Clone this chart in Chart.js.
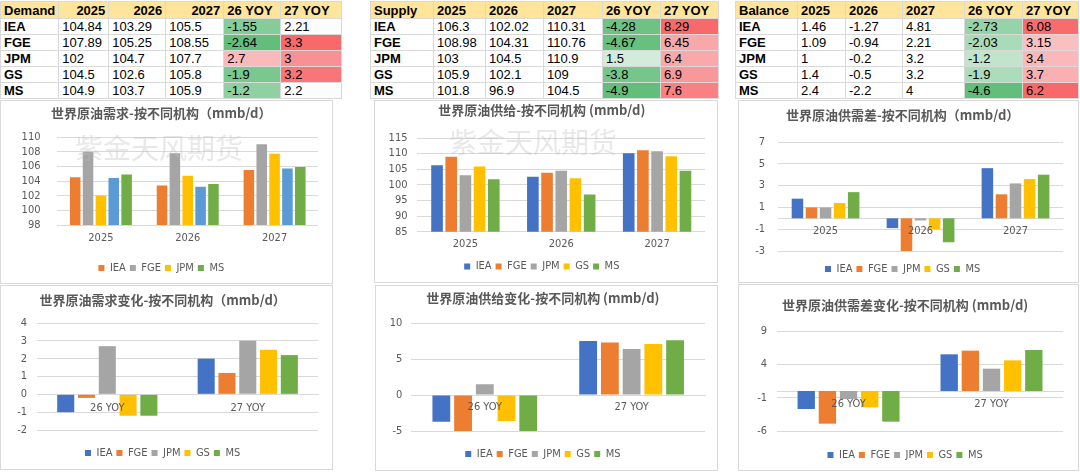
<!DOCTYPE html>
<html>
<head>
<meta charset="utf-8">
<script src="https://cdn.jsdelivr.net/npm/chart.js"></script>
<style>
  body { margin: 0; width: 1080px; height: 475px; overflow: hidden; position: relative; background: #fff;
         font-family: "Liberation Sans", Arial, sans-serif; }
  table { position: absolute; border-collapse: collapse; table-layout: fixed; font-size: 13px; color: #000; }
  td { border: 1px solid #d9d9d9; padding: 0 3px; height: 15px; line-height: 15px; white-space: nowrap; overflow: hidden; }
  tr.head td { background: #ffe59c; font-weight: bold; height: 16px; }
  td.lab { font-weight: bold; }
  .box { position: absolute; border: 1px solid #d9d9d9; box-sizing: border-box; background: #fff; }
  canvas { position: absolute; }
  .wm { position: absolute; font-family: "Noto Sans CJK SC"; font-size: 28px; color: rgba(190,190,190,0.35);
        white-space: nowrap; pointer-events: none; z-index: 5; }
</style>
</head>
<body>
<div class="wm" style="left:75px;top:127px">紫金天风期货</div>
<div class="wm" style="left:449px;top:121px">紫金天风期货</div>
<script>
// ---- table data ----
const agencies = ['IEA', 'FGE', 'JPM', 'GS', 'MS'];
const years = ['2025', '2026', '2027'];
const yoyCats = ['26 YOY', '27 YOY'];

const demand2025 = [104.84, 107.89, 102, 104.5, 104.9];
const demand2026 = [103.29, 105.25, 104.7, 102.6, 103.7];
const demand2027 = [105.5, 108.55, 107.7, 105.8, 105.9];
const demandYoy26 = [-1.55, -2.64, 2.7, -1.9, -1.2];
const demandYoy27 = [2.21, 3.3, 3, 3.2, 2.2];

const supply2025 = [106.3, 108.98, 103, 105.9, 101.8];
const supply2026 = [102.02, 104.31, 104.5, 102.1, 96.9];
const supply2027 = [110.31, 110.76, 110.9, 109, 104.5];
const supplyYoy26 = [-4.28, -4.67, 1.5, -3.8, -4.9];
const supplyYoy27 = [8.29, 6.45, 6.4, 6.9, 7.6];

const balance2025 = [1.46, 1.09, 1, 1.4, 2.4];
const balance2026 = [-1.27, -0.94, -0.2, -0.5, -2.2];
const balance2027 = [4.81, 2.21, 3.2, 3.2, 4];
const balanceYoy26 = [-2.73, -2.03, -1.2, -1.9, -4.6];
const balanceYoy27 = [6.08, 3.15, 3.4, 3.7, 6.2];

// ---- chart data (per agency, as drawn) ----
const demIEA = [104.5, 103.4, 105.5];
const demFGE = [108, 107.8, 109];
const demJPM = [102, 104.7, 107.7];
const demGS  = [104.4, 103.2, 105.7];
const demMS  = [104.9, 103.6, 105.9];

const supIEA = [106.3, 102.6, 110.1];
const supFGE = [109, 103.9, 111.1];
const supJPM = [103.1, 104.5, 110.8];
const supGS  = [105.9, 102.1, 109.2];
const supMS  = [101.8, 96.9, 104.5];

const balIEA = [1.8, -0.9, 4.6];
const balFGE = [1.0, -3.1, 2.2];
const balJPM = [1.0, -0.2, 3.2];
const balGS  = [1.4, -1.0, 3.6];
const balMS  = [2.4, -2.2, 4.0];

const dchIEA = [-1.0, 2.0];
const dchFGE = [-0.2, 1.2];
const dchJPM = [2.7, 3.0];
const dchGS  = [-1.2, 2.5];
const dchMS  = [-1.2, 2.2];

const schIEA = [-3.7, 7.5];
const schFGE = [-5.1, 7.3];
const schJPM = [1.5, 6.4];
const schGS  = [-3.6, 7.1];
const schMS  = [-5.0, 7.6];

const bchIEA = [-2.7, 5.5];
const bchFGE = [-4.9, 6.05];
const bchJPM = [-1.2, 3.35];
const bchGS  = [-2.45, 4.6];
const bchMS  = [-4.6, 6.15];

// ---- tables ----
function median(a) {
  const s = a.slice().sort((x, y) => x - y);
  const m = s.length / 2;
  return s.length % 2 ? s[Math.floor(m)] : (s[m - 1] + s[m]) / 2;
}
function scaleColor(v, min, mid, max) {
  const g = [99, 190, 123], w = [252, 252, 255], r = [248, 105, 107];
  let a, b, t;
  if (v <= mid) { a = g; b = w; t = (v - min) / (mid - min); }
  else { a = w; b = r; t = (v - mid) / (max - mid); }
  const c = a.map((x, i) => Math.round(x + (b[i] - x) * t));
  return 'rgb(' + c.join(',') + ')';
}
function makeTable(name, cols, left, widths, headRight) {
  const t = document.createElement('table');
  t.style.left = left + 'px';
  t.style.top = '1px';
  const cg = document.createElement('colgroup');
  widths.forEach(w => { const c = document.createElement('col'); c.style.width = w + 'px'; cg.appendChild(c); });
  t.appendChild(cg);
  const heads = [name, '2025', '2026', '2027', '26 YOY', '27 YOY'];
  const hr = document.createElement('tr');
  hr.className = 'head';
  heads.forEach((h, i) => {
    const td = document.createElement('td');
    td.textContent = h;
    if (headRight && i >= 1 && i <= 3) td.style.textAlign = 'right';
    hr.appendChild(td);
  });
  t.appendChild(hr);
  const yoy = cols[3].concat(cols[4]);
  const mn = Math.min(...yoy), mx = Math.max(...yoy), md = median(yoy);
  agencies.forEach((a, r) => {
    const tr = document.createElement('tr');
    const l = document.createElement('td');
    l.className = 'lab';
    l.textContent = a;
    tr.appendChild(l);
    cols.forEach((col, c) => {
      const td = document.createElement('td');
      td.textContent = String(col[r]);
      if (c >= 3) td.style.background = scaleColor(col[r], mn, md, mx);
      tr.appendChild(td);
    });
    t.appendChild(tr);
  });
  document.body.appendChild(t);
}
makeTable('Demand', [demand2025, demand2026, demand2027, demandYoy26, demandYoy27], 0, [50, 50, 57, 58, 57, 61], true);
makeTable('Supply', [supply2025, supply2026, supply2027, supplyYoy26, supplyYoy27], 370, [63, 52, 58, 59, 58, 58], false);
makeTable('Balance', [balance2025, balance2026, balance2027, balanceYoy26, balanceYoy27], 735, [62, 48, 57, 62, 58, 56], false);

// ---- charts ----
const narrow = '"Liberation Sans Narrow", "DejaVu Sans Condensed", "Liberation Sans", Arial, sans-serif';
Chart.defaults.font.family = narrow;
Chart.defaults.color = '#595959';
Chart.defaults.animation = false;

const stdColors = ['#4472C4', '#ED7D31', '#A5A5A5', '#FFC000', '#70AD47'];

const charts = [
  { box: [0, 100, 333, 184], title: '世界原油需求-按不同机构（mmb/d）', cats: years,
    series: [['IEA', demIEA, '#ED7D31'], ['FGE', demFGE, '#A5A5A5'], ['JPM', demJPM, '#FFC000'], ['GS', demGS, '#5B9BD5'], ['MS', demMS, '#70AD47']],
    min: 98, max: 110, step: 2, hide: ['GS'],
    pad: { left: 3.6, right: 14, top: 0, bottom: -0.5 }, titlePad: [4, 16.4], yPad: 17, xPad: 7, zero: false, gap: 6.3 },
  { box: [374, 100, 344, 183], title: '世界原油供给-按不同机构 (mmb/d)', cats: years,
    series: [['IEA', supIEA], ['FGE', supFGE], ['JPM', supJPM], ['GS', supGS], ['MS', supMS]],
    min: 85, max: 115, step: 5,
    pad: { left: 3.6, right: 12, top: 0, bottom: 0 }, titlePad: [1, 20.4], yPad: 10, xPad: 6, zero: false, gap: 0 },
  { box: [738, 100, 341, 183], title: '世界原油供需差-按不同机构（mmb/d）', cats: years,
    series: [['IEA', balIEA], ['FGE', balFGE], ['JPM', balJPM], ['GS', balGS], ['MS', balMS]],
    min: -3, max: 7, step: 2,
    pad: { left: 3.2, right: 15, top: 0, bottom: -2.5 }, titlePad: [6, 19.4], yPad: 13, xPad: 6, zero: true, gap: 8.5 },
  { box: [0, 285, 333, 185], title: '世界原油需求变化-按不同机构（mmb/d）', cats: yoyCats,
    series: [['IEA', dchIEA], ['FGE', dchFGE], ['JPM', dchJPM], ['GS', dchGS], ['MS', dchMS]],
    min: -2, max: 4, step: 1,
    pad: { left: 6.2, right: 14, top: 0, bottom: 0.5 }, titlePad: [6, 15.4], yPad: 10, xPad: 7, zero: true, gap: 13.5 },
  { box: [375, 285, 343, 186], title: '世界原油供给变化-按不同机构 (mmb/d)', cats: yoyCats,
    series: [['IEA', schIEA], ['FGE', schFGE], ['JPM', schJPM], ['GS', schGS], ['MS', schMS]],
    min: -5, max: 10, step: 5,
    pad: { left: 4.8, right: 12, top: 0, bottom: 0.5 }, titlePad: [4, 17.4], yPad: 9, xPad: 6, zero: true, gap: 13.5 },
  { box: [738, 284, 341, 187], title: '世界原油供需差变化-按不同机构 (mmb/d)', cats: yoyCats,
    series: [['IEA', bchIEA], ['FGE', bchFGE], ['JPM', bchJPM], ['GS', bchGS], ['MS', bchMS]],
    min: -6, max: 9, step: 5,
    pad: { left: 8.2, right: 15, top: 0, bottom: -0.5 }, titlePad: [12, 18.4], yPad: 10, xPad: 7, zero: true, gap: 14.5 }
];

charts.forEach(c => {
  const [x, y, w, h] = c.box;
  const box = document.createElement('div');
  box.className = 'box';
  Object.assign(box.style, { left: x + 'px', top: y + 'px', width: w + 'px', height: h + 'px' });
  document.body.appendChild(box);
  const cv = document.createElement('canvas');
  cv.width = w - 2;
  cv.height = h - 2;
  Object.assign(cv.style, { left: (x + 1) + 'px', top: (y + 1) + 'px' });
  document.body.appendChild(cv);

  const xScale = {
    type: 'category',
    grid: { display: false, drawTicks: false },
    border: { display: c.zero, color: '#d9d9d9' },
    ticks: { font: { size: 11 }, padding: c.xPad, color: '#595959', z: 1 }
  };
  if (c.zero) xScale.position = { y: 0 };

  new Chart(cv, {
    type: 'bar',
    data: {
      labels: c.cats,
      datasets: c.series.map((s, i) => ({
        label: s[0],
        data: s[1],
        backgroundColor: s[2] || stdColors[i],
        borderWidth: 0,
        categoryPercentage: 0.74,
        barPercentage: 0.82
      }))
    },
    options: {
      responsive: false,
      layout: { padding: c.pad },
      scales: {
        x: xScale,
        y: {
          min: c.min, max: c.max,
          grid: { color: '#d9d9d9', drawTicks: false },
          border: { display: false },
          ticks: { stepSize: c.step, autoSkip: false, font: { size: 11 }, padding: c.yPad, color: '#595959' }
        }
      },
      plugins: {
        title: {
          display: true, text: c.title, color: '#595959',
          font: { family: '"Noto Sans CJK SC", sans-serif', size: 13, weight: 'bold' },
          padding: { top: c.titlePad[0], bottom: c.titlePad[1] }
        },
        legend: {
          position: 'bottom',
          title: { display: c.gap > 1.2, text: '', font: { size: 1 }, padding: { top: Math.max(c.gap - 1.2, 0), bottom: 0 } },
          labels: {
            boxWidth: 6, boxHeight: 6, padding: 4, font: { size: 11 }, color: '#595959',
            filter: item => !(c.hide || []).includes(item.text)
          }
        },
        tooltip: { enabled: false }
      }
    }
  });
});
</script>
</body>
</html>
